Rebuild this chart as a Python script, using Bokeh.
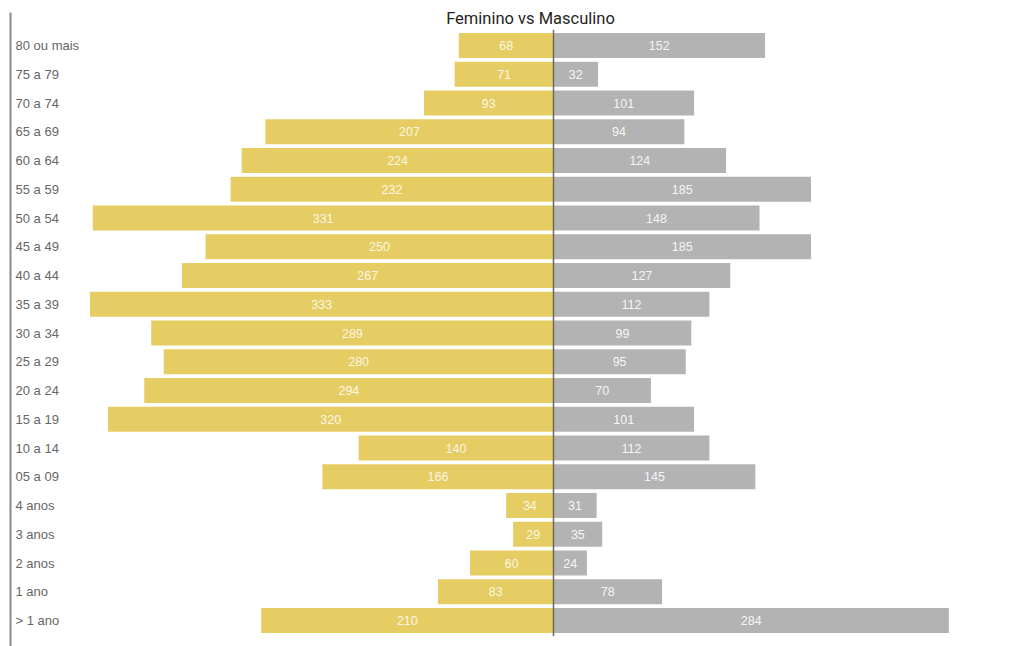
from bokeh.plotting import figure
from bokeh.models import ColumnDataSource, Range1d
from bokeh.core.properties import value
from bokeh.embed import file_html
from bokeh.resources import INLINE

# data (top to bottom as in the chart)
categories = ["80 ou mais", "75 a 79", "70 a 74", "65 a 69", "60 a 64", "55 a 59",
              "50 a 54", "45 a 49", "40 a 44", "35 a 39", "30 a 34", "25 a 29",
              "20 a 24", "15 a 19", "10 a 14", "05 a 09", "4 anos", "3 anos",
              "2 anos", "1 ano", "> 1 ano"]
feminino = [68, 71, 93, 207, 224, 232, 331, 250, 267, 333, 289, 280, 294, 320,
            140, 166, 34, 29, 60, 83, 210]
masculino = [152, 32, 101, 94, 124, 185, 148, 185, 127, 112, 99, 95, 70, 101,
             112, 145, 31, 35, 24, 78, 284]
title_text = "Feminino vs Masculino"

W, H = 1023, 646
PX_PER_UNIT = 1.392
CENTER_PX = 553
ROW_PX = 28.75
TOP_ROW_PX = 45

n = len(categories)
ys = [n - 1 - i for i in range(n)]  # top category gets highest index

x_start = -CENTER_PX / PX_PER_UNIT
x_end = (W - CENTER_PX) / PX_PER_UNIT
bottom_row_px = TOP_ROW_PX + (n - 1) * ROW_PX
y_start = -(H - bottom_row_px) / ROW_PX
y_end = (n - 1) + TOP_ROW_PX / ROW_PX

p = figure(width=W, height=H, output_backend="svg", toolbar_location=None,
           x_range=Range1d(x_start, x_end), y_range=Range1d(y_start, y_end),
           min_border=0, min_border_left=0, min_border_right=0,
           min_border_top=0, min_border_bottom=0)
p.axis.visible = False
p.grid.visible = False
p.outline_line_color = None
p.background_fill_color = "white"
p.border_fill_color = "white"

src = ColumnDataSource(dict(
    y=ys, cat=categories,
    f_left=[-v for v in feminino], f_mid=[-v / 2 for v in feminino], f_lab=[str(v) for v in feminino],
    m_right=masculino, m_mid=[v / 2 for v in masculino], m_lab=[str(v) for v in masculino],
    zero=[0] * n,
    lab_x=[x_start + 15 / PX_PER_UNIT] * n,
))

bar_h = 25 / ROW_PX
p.hbar(y="y", left="f_left", right="zero", height=bar_h, source=src,
       fill_color="#E6CD63", line_color=None)
p.hbar(y="y", left="zero", right="m_right", height=bar_h, source=src,
       fill_color="#B3B3B3", line_color=None)

p.text(x="f_mid", y="y", text="f_lab", source=src, text_color="white",
       text_alpha=0.85, text_font=value("Liberation Sans"), text_font_size="12.5px",
       text_align="center", text_baseline="middle")
p.text(x="m_mid", y="y", text="m_lab", source=src, text_color="white",
       text_alpha=0.9, text_font=value("Liberation Sans"), text_font_size="12.5px",
       text_align="center", text_baseline="middle")

# category labels
p.text(x="lab_x", y="y", text="cat", source=src, text_color="#666666",
       text_font=value("Liberation Sans"), text_font_size="13px",
       text_align="left", text_baseline="middle")

# center divider
p.segment(x0=[0], x1=[0], y0=[-0.5 - 0.05], y1=[n - 1 + 0.5 + 0.05],
          line_color="#6E6A60", line_width=1.5)

# left frame line
lx = x_start + 10 / PX_PER_UNIT
p.segment(x0=[lx], x1=[lx], y0=[y_start], y1=[y_end - 12 / ROW_PX],
          line_color="#8A8A8A", line_width=2)

# title
p.text(x=[x_start + 530 / PX_PER_UNIT], y=[y_end - 18 / ROW_PX], text=[title_text],
       text_color="#252423", text_font=value("Roboto"), text_font_size="16.5px",
       text_font_style="normal", text_align="center", text_baseline="middle")

open("out.html", "w").write(file_html(p, INLINE))
